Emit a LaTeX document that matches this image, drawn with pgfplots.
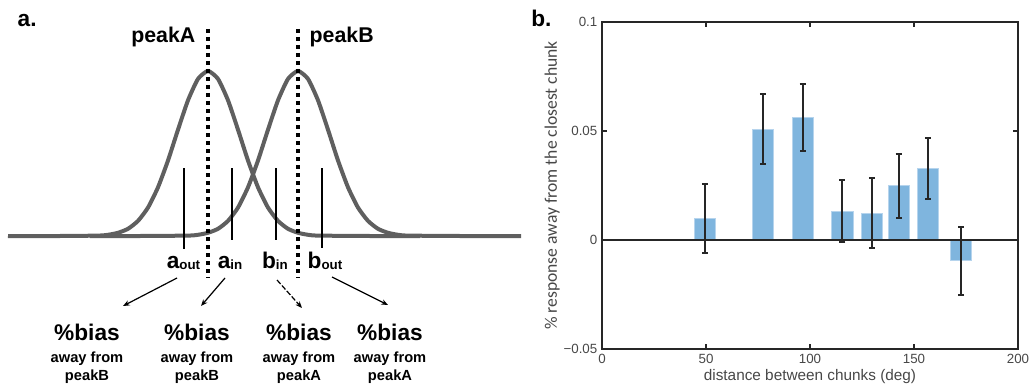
\documentclass[border=0pt]{standalone}
\usepackage{pgfplots}
\pgfplotsset{compat=1.18}
\usepackage{fontspec}
\setmainfont{Liberation Sans}
\newfontfamily\carlito{Carlito}
\usetikzlibrary{arrows.meta}
\definecolor{barblue}{RGB}{127,181,222}
\definecolor{baredge}{RGB}{182,212,237}
\definecolor{curvegray}{RGB}{95,95,95}
\definecolor{axgray}{RGB}{38,38,38}
\newcommand\fs[1]{\fontsize{#1}{#1}\selectfont}
\newcommand\biasnode[2]{%
  \node[anchor=base, inner sep=0pt, font=\fs{17pt}\bfseries] at (axis cs:#1,-340) {\%bias};
  \node[anchor=base, inner sep=0pt, font=\fs{11pt}\bfseries] at (axis cs:#1,-362) {away from};
  \node[anchor=base, inner sep=0pt, font=\fs{11pt}\bfseries] at (axis cs:#1,-380) {#2};}
\begin{document}
\begin{tikzpicture}
\useasboundingbox (0,0) rectangle (774pt,292.5pt);
% ---------------- panel a ----------------
\begin{axis}[at={(0pt,0pt)}, anchor=south west, hide axis,
  x=0.75pt, y=0.75pt, xmin=0, xmax=530, ymin=-390, ymax=0, clip=false]
\addplot[curvegray, line width=3pt, smooth, tension=0.35] coordinates {
 (8,-236) (60,-236) (98,-235.6) (108,-234.8) (118,-232.8) (128,-228.8) (138,-220.9)
 (148,-207.6) (158,-187.3) (168,-160.5) (178,-129.7) (188,-100.3) (198,-78.9)
 (208,-71) (218,-78.9) (228,-100.3) (238,-129.7) (248,-160.5) (258,-187.3)
 (268,-207.6) (278,-220.9) (288,-228.8) (298,-232.8) (308,-234.8) (318,-235.6)
 (370,-236) (420,-236)};
\addplot[curvegray, line width=3pt, smooth, tension=0.35] coordinates {
 (90,-236) (140,-236) (188,-235.6) (198,-234.8) (208,-232.8) (218,-228.8) (228,-220.9)
 (238,-207.6) (248,-187.3) (258,-160.5) (268,-129.7) (278,-100.3) (288,-78.9)
 (298,-71) (308,-78.9) (318,-100.3) (328,-129.7) (338,-160.5) (348,-187.3)
 (358,-207.6) (368,-220.9) (378,-228.8) (388,-232.8) (398,-234.8) (408,-235.6)
 (460,-236) (521,-236)};
% dotted peak lines
\addplot[black, line width=3pt, dash pattern=on 3pt off 3pt] coordinates {(208,-29) (208,-278)};
\addplot[black, line width=3pt, dash pattern=on 3pt off 3pt] coordinates {(298,-29) (298,-278)};
% vertical marker lines
\addplot[black, line width=1.1pt] coordinates {(184,-168) (184,-249)};
\addplot[black, line width=1.1pt] coordinates {(232,-168) (232,-240)};
\addplot[black, line width=1.1pt] coordinates {(276,-168) (276,-240)};
\addplot[black, line width=1.1pt] coordinates {(322,-168) (322,-248)};
% arrows
\addplot[black, line width=0.9pt, -{Stealth[length=5pt,width=4pt]}] coordinates {(177,-278) (123,-306)};
\addplot[black, line width=0.9pt, -{Stealth[length=5pt,width=4pt]}] coordinates {(225,-278) (201,-306)};
\addplot[black, line width=0.9pt, dash pattern=on 4pt off 1.5pt, -{Stealth[length=5pt,width=4pt]}] coordinates {(277,-280) (302,-308)};
\addplot[black, line width=0.9pt, -{Stealth[length=5pt,width=4pt]}] coordinates {(332,-277) (388,-305)};
% texts
\node[anchor=base west, font=\fs{17pt}\bfseries] at (axis cs:13,-27) {a.};
\node[anchor=base east, font=\fs{16pt}\bfseries] at (axis cs:200,-43) {peakA};
\node[anchor=base west, font=\fs{16pt}\bfseries] at (axis cs:305,-43) {peakB};
\node[anchor=base, inner sep=0pt] at (axis cs:183.5,-268) {\fs{17pt}\bfseries a\raisebox{-1pt}{\fs{10pt}\bfseries out}};
\node[anchor=base, inner sep=0pt] at (axis cs:230,-268) {\fs{17pt}\bfseries a\raisebox{-1pt}{\fs{10pt}\bfseries in}};
\node[anchor=base, inner sep=0pt] at (axis cs:275,-268) {\fs{17pt}\bfseries b\raisebox{-1pt}{\fs{10pt}\bfseries in}};
\node[anchor=base, inner sep=0pt] at (axis cs:325,-268) {\fs{17pt}\bfseries b\raisebox{-1pt}{\fs{10pt}\bfseries out}};
\biasnode{87}{peakB}
\biasnode{197}{peakB}
\biasnode{299}{peakA}
\biasnode{390}{peakA}
\end{axis}
% ---------------- panel b ----------------
\node[anchor=base west, font=\fs{17pt}\bfseries, inner sep=0pt] at (398.25pt,272.25pt) {b.};
\pgfplotstableread{
x     y        ep      em
49.4  0.0099   0.0159  0.0159
77.3  0.0509   0.0162  0.0160
96.5  0.0563   0.0154  0.0155
115.6 0.0133   0.0142  0.0141
129.7 0.0122   0.0164  0.0159
142.6 0.0251   0.0145  0.0150
156.7 0.0329   0.0140  0.0141
172.6 -0.0095  0.0155  0.0157
}\biasdata
\begin{axis}[at={(451.5pt,30.75pt)}, anchor=south west, scale only axis,
  width=312pt, height=245.25pt,
  xmin=0, xmax=200, ymin=-0.05, ymax=0.1,
  xtick={0,50,100,150,200}, xticklabels={0,50,100,150,200},
  ytick={-0.05,0,0.05,0.1}, yticklabels={−0.05,0,0.05,0.1},
  scaled y ticks=false, scaled x ticks=false,
  tick align=inside, major tick length=3.75pt,
  tick style={axgray, line width=1.5pt},
  axis line style={axgray, line width=1.8pt},
  ticklabel style={font=\fs{10pt}, text=axgray!85},
  xlabel={distance between chunks (deg)},
  ylabel={\% response away from the closest chunk},
  xlabel style={at={(axis description cs:0.5,-0.0856)}, anchor=center, font=\fs{11.5pt}, text=axgray!85},
  ylabel style={at={(axis description cs:-0.12,0.5)}, anchor=center, font=\carlito\fs{13.2pt}, text=axgray!85},
]
\addplot[ybar, bar width=10.2, fill=barblue, draw=baredge, line width=0.6pt,
  error bars/.cd, y dir=both, y explicit,
  error bar style={axgray, line width=1.5pt},
  error mark options={rotate=90, mark size=2.25pt, line width=1.5pt, axgray}]
  table[x=x, y=y, y error plus=ep, y error minus=em] {\biasdata};
\addplot[axgray, line width=1.5pt] coordinates {(0,0) (200,0)};
\end{axis}
\end{tikzpicture}
\end{document}
